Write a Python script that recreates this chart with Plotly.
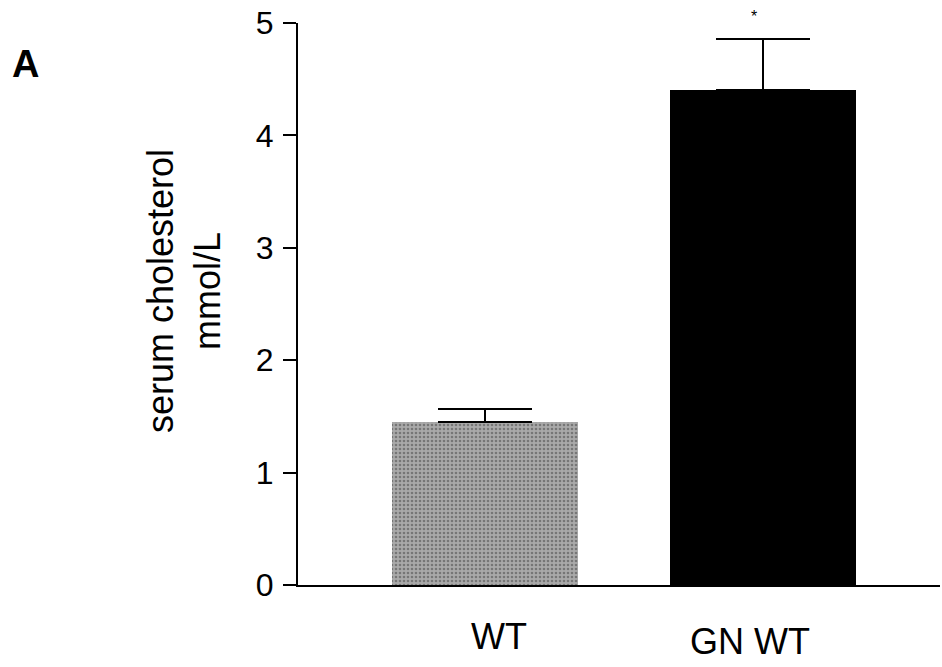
import plotly.graph_objects as go

categories = ["WT", "GN WT"]
means = [1.45, 4.40]
sem_upper = [0.115, 0.46]
y_ticks = [0, 1, 2, 3, 4, 5]
y_title_lines = ["serum cholesterol", "mmol/L"]
significance = ["", "*"]
panel_label = "A"

FONT = "Liberation Sans, Arial, Helvetica, sans-serif"

fig = go.Figure()
fig.add_trace(go.Bar(
    x=categories,
    y=means,
    width=0.668,
    marker=dict(
        color=["#a9a9a9", "#000000"],
        line=dict(width=0),
        pattern=dict(
            shape=[".", ""],
            fgcolor=["#4a4a4a", "#000000"],
            bgcolor=["#cfcfcf", "#000000"],
            size=4,
            solidity=0.35,
        ),
    ),
    error_y=dict(
        type="data",
        symmetric=False,
        array=sem_upper,
        arrayminus=[0 for _ in sem_upper],
        color="black",
        thickness=2,
        width=47,
    ),
    showlegend=False,
    hoverinfo="skip",
))

annotations = []
# category labels below the axis
label_shift = [14, -13]
label_y = [-0.0916, -0.1014]
for i, cat in enumerate(categories):
    annotations.append(dict(
        x=cat, xref="x", y=label_y[i], yref="paper",
        text=cat, showarrow=False, xanchor="center", yanchor="middle",
        xshift=label_shift[i],
        font=dict(family=FONT, size=36, color="black"),
    ))
# significance markers
for i, cat in enumerate(categories):
    if significance[i]:
        annotations.append(dict(
            x=cat, xref="x", y=means[i] + sem_upper[i], yref="y",
            text=significance[i], showarrow=False, xanchor="center", yanchor="bottom",
            xshift=-9, yshift=12,
            font=dict(family=FONT, size=16, color="black"),
        ))
# y-axis title
annotations.append(dict(
    x=-0.1776, xref="paper", y=0.523, yref="paper",
    text="<br>".join(y_title_lines), showarrow=False, textangle=-90,
    xanchor="center", yanchor="middle",
    font=dict(family=FONT, size=36, color="black"),
))
# panel label
annotations.append(dict(
    x=-0.4245, xref="paper", y=0.927, yref="paper",
    text="<b>" + panel_label + "</b>", showarrow=False,
    xanchor="center", yanchor="middle",
    font=dict(family=FONT, size=38, color="black"),
))

fig.update_layout(
    width=942, height=667,
    margin=dict(l=298, r=2, t=23, b=82, autoexpand=False),
    paper_bgcolor="white", plot_bgcolor="white",
    bargap=0,
    font=dict(family=FONT, color="black"),
    annotations=annotations,
    xaxis=dict(
        type="category",
        range=[-0.67, 1.635],
        automargin=False,
        showline=True, linecolor="black", linewidth=2,
        showticklabels=False, ticks="", showgrid=False, zeroline=False,
    ),
    yaxis=dict(
        range=[0, 5],
        tickvals=y_ticks,
        automargin=False,
        ticks="outside", ticklen=13, tickwidth=2, tickcolor="black",
        showline=True, linecolor="black", linewidth=2,
        showgrid=False, zeroline=False,
        ticklabeloverflow="allow",
        ticklabelstandoff=3,
        tickfont=dict(family=FONT, size=32, color="black"),
    ),
)

# remove the browser's default 8px page margin so the figure fills the window
fig.write_html(
    "out.html",
    config={"displayModeBar": False},
    post_script="document.body.style.margin='0px';",
)
